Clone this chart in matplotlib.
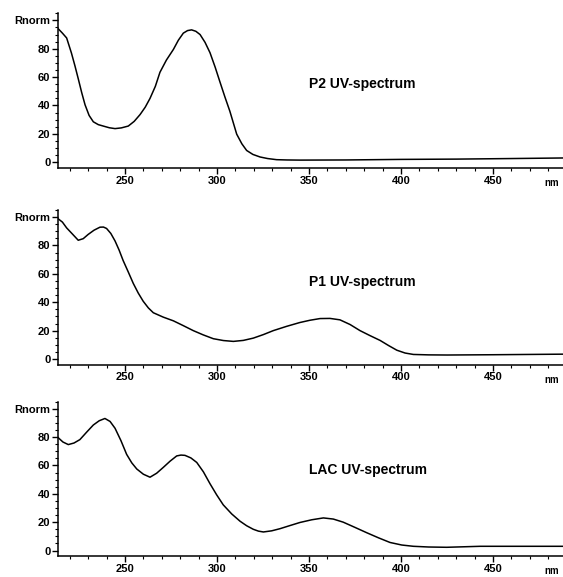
import matplotlib.pyplot as plt
import numpy as np
from matplotlib.ticker import MultipleLocator
import matplotlib.transforms as mtransforms

plt.rcParams['font.family'] = ['Liberation Sans', 'DejaVu Sans']

# P2 spectrum (nm, Rnorm)
p2_nm = [213.8, 216, 218.3, 220.9, 222.8, 224.6, 226.5, 228.3, 230.5, 232.8, 235.5,
         238.2, 241.5, 244.6, 248, 251.8, 255, 258.2, 261, 263.6, 266.5, 269, 272.5,
         276.3, 279, 281.7, 284, 286.2, 288.5, 290.8, 293.5, 296.2, 299, 301.6, 304.3,
         307, 310.7, 313.5, 316.1, 319.5, 323.4, 327.5, 332.4, 338, 345, 370, 400,
         430, 460, 488]
p2_val = [94, 91, 87.6, 77, 68, 58.9, 49, 40.5, 33, 28.5, 26.5,
          25.5, 24.3, 23.7, 24.2, 25.5, 28.8, 33.6, 38.8, 45, 53.5, 63.4, 72,
          79.5, 86, 91, 92.8, 93.3, 92.3, 90, 84.5, 77.2, 67, 56.6, 46,
          35.9, 19.8, 13, 8.3, 5.5, 3.7, 2.6, 1.8, 1.6, 1.5, 1.6, 2.0,
          2.2, 2.6, 3.0]

# P1 spectrum
p1_nm = [213.5, 216, 218.3, 221.5, 224.6, 227.3, 230, 233.2, 236.4, 238.3, 240,
         242.3, 244.6, 246.8, 249, 251.8, 254.5, 257.2, 259.9, 262.7, 265.4, 270.8,
         276.3, 281.7, 287.1, 292.5, 298, 303.5, 308.9, 314.3, 319.7, 325.2, 330.6,
         337.8, 345, 350.5, 356, 361.4, 366.8, 372.3, 377.7, 383.1, 388.6, 393.2,
         397.7, 402.2, 406.7, 415, 425, 450, 488]
p1_val = [99, 96.5, 92.4, 88, 83.7, 84.8, 87.8, 90.8, 92.9, 93, 92,
          88.5, 83.2, 76.8, 69.4, 61.3, 53.3, 46.5, 40.7, 36, 32.6, 29.5,
          26.9, 23.5, 20, 17, 14.3, 13, 12.4, 13.1, 14.7, 17.2, 20,
          23, 25.7, 27.3, 28.5, 28.6, 27.6, 24.3, 20, 16.5, 13.1, 9.5,
          6.2, 4.2, 3.2, 2.9, 2.8, 3.0, 3.4]

# LAC spectrum
lac_nm = [213.5, 216.3, 219.2, 222.3, 225.5, 229.2, 232.8, 236, 239.1, 241.9, 244.6,
          247.8, 250.9, 253.7, 256.4, 260, 263.6, 267.2, 270.8, 274.5, 278.1, 280.4,
          282.6, 285.8, 289, 292.6, 296.2, 299.8, 303.4, 308, 312.5, 316.1, 319.7,
          322.5, 325.2, 329.7, 334.2, 339.6, 345.1, 351.5, 357.8, 363.2, 368.6, 375,
          381.3, 387.7, 394, 400.4, 406.7, 415, 424.8, 443, 488]
lac_val = [79.8, 76.5, 74.7, 75.8, 78.2, 83.5, 88.5, 91.5, 93.1, 91, 86.2,
           77.5, 67.8, 61.8, 57.5, 53.8, 51.7, 54.5, 58.6, 63, 66.7, 67.3,
           67.1, 65.3, 62.1, 55.5, 47.1, 39.3, 32.2, 25.8, 20.7, 17.5, 15,
           13.7, 13.1, 13.9, 15.4, 17.6, 19.8, 21.7, 23, 22.2, 20, 16.3,
           12.6, 9, 5.7, 3.9, 3, 2.5, 2.3, 3, 3]

titles = ['P2 UV-spectrum', 'P1 UV-spectrum', 'LAC UV-spectrum']
series = [(p2_nm, p2_val), (p1_nm, p1_val), (lac_nm, lac_val)]
ytick_vals = [0, 20, 40, 60, 80, 100]
ytick_labels = ['0', '20', '40', '60', '80', 'Rnorm']
xtick_vals = [250, 300, 350, 400, 450]

fig = plt.figure(figsize=(5.63, 5.77), dpi=100)
bottoms = [0.709, 0.368, 0.036]
title_y = [55, 54.5, 57]

for i, (nm, val) in enumerate(series):
    ax = fig.add_axes([0.103, bottoms[i], 0.897, 0.268])
    ax.plot(nm, val, color='black', lw=1.1)
    ax.set_xlim(213.6, 488)
    ax.set_ylim(-4, 105)
    for s in ['top', 'right']:
        ax.spines[s].set_visible(False)
    ax.spines['left'].set_linewidth(1.1)
    ax.spines['bottom'].set_linewidth(1.1)
    ax.set_yticks(ytick_vals)
    ax.set_yticklabels(ytick_labels)
    ax.set_xticks(xtick_vals)
    ax.set_xticklabels([str(v) for v in xtick_vals])
    ax.xaxis.set_minor_locator(MultipleLocator(10))
    ax.yaxis.set_minor_locator(MultipleLocator(5))
    ax.tick_params(axis='both', which='major', direction='out', length=4, width=1,
                   labelsize=8, pad=1.5)
    ax.tick_params(axis='both', which='minor', direction='out', length=2, width=0.8)
    for lab in ax.get_xticklabels() + ax.get_yticklabels():
        lab.set_fontweight('bold')
    trans = mtransforms.blended_transform_factory(ax.transData, ax.transAxes)
    ax.text(482, -0.065, 'nm', transform=trans, fontsize=7, fontweight='bold',
            ha='center', va='top')
    ax.text(350, title_y[i], titles[i], fontsize=10, fontweight='bold',
            ha='left', va='center')

fig.savefig('out.png', dpi=100)
